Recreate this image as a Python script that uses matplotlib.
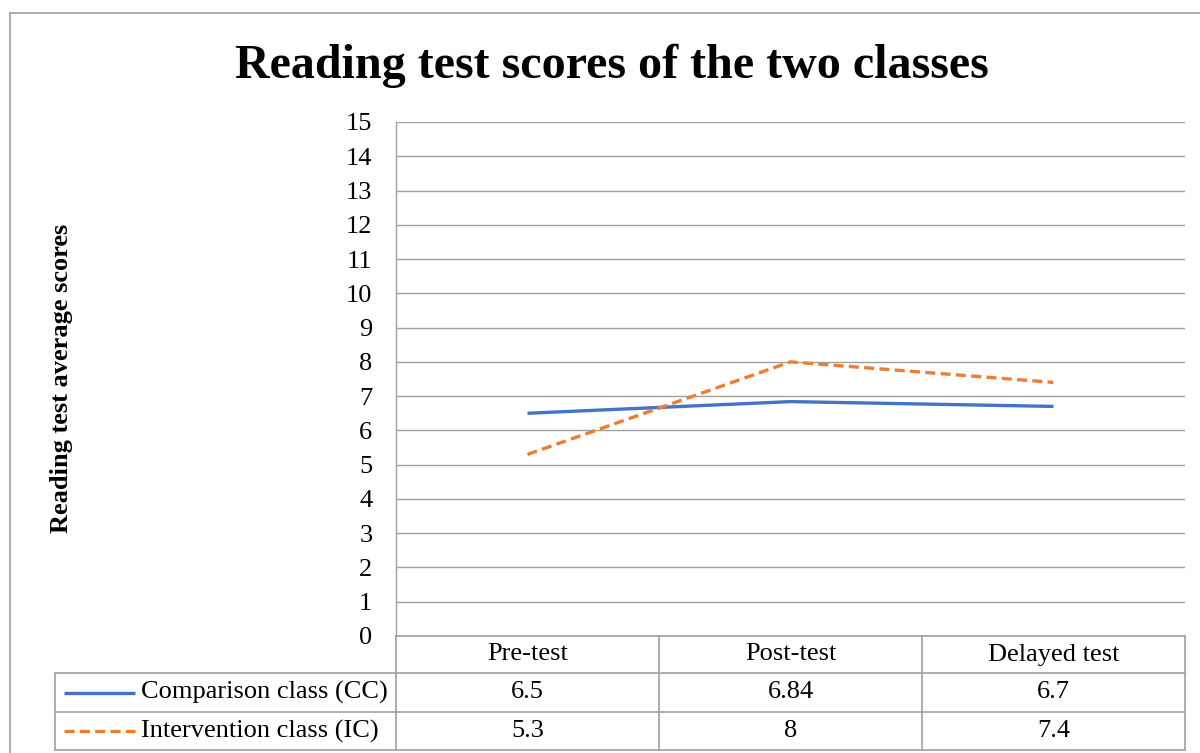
import matplotlib
matplotlib.use("Agg")
import matplotlib.pyplot as plt
from matplotlib.lines import Line2D
from matplotlib.patches import Rectangle

categories = ["Pre-test", "Post-test", "Delayed test"]
series_names = ["Comparison class (CC)", "Intervention class (IC)"]
cc_values = [6.5, 6.84, 6.7]
ic_values = [5.3, 8, 7.4]
value_labels = [["6.5", "6.84", "6.7"], ["5.3", "8", "7.4"]]
yticks = list(range(0, 16))

W, H = 1200, 753
plt.rcParams['font.family'] = ['Liberation Serif', 'DejaVu Serif']
fig = plt.figure(figsize=(W / 100, H / 100), dpi=100)

def fx(px):
    return px / W

def fy(py):
    return 1 - py / H

grid_c = '#a0a0a0'
colors = ['#4472C4', '#ED7D31']
styles = ['-', (0, (3.0, 1.6))]

# outer border
fig.add_artist(Rectangle((fx(10), fy(800)), fx(1250) - fx(10), fy(13) - fy(800),
                         transform=fig.transFigure, fill=False, edgecolor='#a6a6a6', lw=1.3))

x0, x1, ytop, ybot = 396, 1185, 122, 636
ax = fig.add_axes([fx(x0), fy(ybot), fx(x1) - fx(x0), fy(ytop) - fy(ybot)])
xs = list(range(len(categories)))
ax.plot(xs, cc_values, color=colors[0], lw=2.4, linestyle=styles[0], solid_capstyle='butt')
ax.plot(xs, ic_values, color=colors[1], lw=2.4, linestyle=styles[1], dash_capstyle='butt')
ax.set_xlim(-0.5, len(categories) - 0.5)
ax.set_ylim(0, 15)
ax.set_yticks(yticks)
ax.set_yticklabels([str(t) for t in yticks], fontsize=19)
ax.set_xticks([])
ax.tick_params(axis='y', length=0, pad=17)
ax.grid(axis='y', color=grid_c, lw=1.0)
for s in ['top', 'right', 'bottom']:
    ax.spines[s].set_visible(False)
ax.spines['left'].set_color(grid_c)
ax.spines['left'].set_linewidth(1.0)

fig.text(fx(612), fy(66), "Reading test scores of the two classes", ha='center', va='center',
         fontsize=34.6, fontweight='bold')
fig.text(fx(62), fy(378), "Reading test average scores", ha='center', va='center',
         rotation=90, fontsize=19, fontweight='bold')

# data table
rows_y = [636, 673, 712, 750]
colw = (x1 - x0) / len(categories)
col_x = [x0 + i * colw for i in range(len(categories) + 1)]
tab_left = 55

def hline(xa, xb, y):
    fig.add_artist(Line2D([fx(xa), fx(xb)], [fy(y), fy(y)], transform=fig.transFigure,
                          color=grid_c, lw=1.2))

def vline(x, ya, yb):
    fig.add_artist(Line2D([fx(x), fx(x)], [fy(ya), fy(yb)], transform=fig.transFigure,
                          color=grid_c, lw=1.2))

hline(x0, x1, rows_y[0])
hline(tab_left, x1, rows_y[1])
hline(tab_left, x1, rows_y[2])
hline(tab_left, x1, rows_y[3])
for cx in col_x:
    vline(cx, rows_y[0], rows_y[3])
vline(tab_left, rows_y[1], rows_y[3])

fs = 19
for i, cat in enumerate(categories):
    fig.text(fx((col_x[i] + col_x[i + 1]) / 2), fy((rows_y[0] + rows_y[1]) / 2), cat,
             ha='center', va='center', fontsize=fs)
for r in range(2):
    yc = (rows_y[r + 1] + rows_y[r + 2]) / 2
    fig.add_artist(Line2D([fx(64), fx(135)], [fy(yc), fy(yc)], transform=fig.transFigure,
                          color=colors[r], lw=2.4, linestyle=styles[r],
                          solid_capstyle='butt', dash_capstyle='butt'))
    fig.text(fx(141), fy(yc), series_names[r], ha='left', va='center', fontsize=fs)
    for i in range(len(categories)):
        fig.text(fx((col_x[i] + col_x[i + 1]) / 2), fy(yc), value_labels[r][i],
                 ha='center', va='center', fontsize=fs)

fig.savefig("out.png", dpi=100)
